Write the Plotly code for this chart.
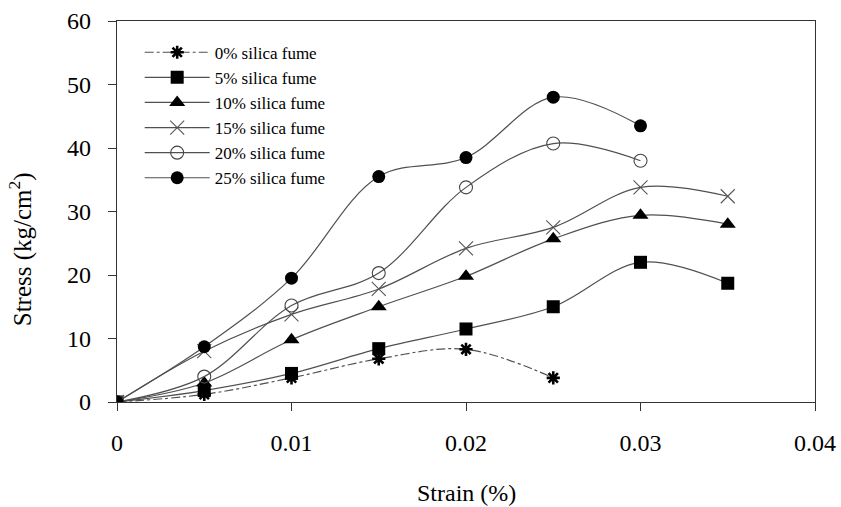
import plotly.graph_objects as go

strain = [0, 0.005, 0.01, 0.015, 0.02, 0.025, 0.03, 0.035]

sf0 = [0, 1.2, 3.8, 6.8, 8.3, 3.8]
sf5 = [0, 1.8, 4.5, 8.4, 11.5, 15.0, 22.0, 18.7]
sf10 = [0, 3.0, 9.8, 15.0, 19.8, 25.7, 29.4, 28.0]
sf15 = [0, 8.0, 13.8, 17.8, 24.2, 27.5, 33.8, 32.4]
sf20 = [0, 4.0, 15.2, 20.3, 33.8, 40.7, 38.0]
sf25 = [0, 8.7, 19.5, 35.5, 38.5, 48.0, 43.5]

names = ["0% silica fume", "5% silica fume", "10% silica fume",
         "15% silica fume", "20% silica fume", "25% silica fume"]

xticks = [0, 0.01, 0.02, 0.03, 0.04]
xticklabels = ["0", "0.01", "0.02", "0.03", "0.04"]
yticks = [0, 10, 20, 30, 40, 50, 60]

x_title = "Strain (%)"
y_title = "Stress (kg/cm<sup>2</sup>)"

series = [sf0, sf5, sf10, sf15, sf20, sf25]
styles = [
    dict(symbol="asterisk-open", size=11, dash="dashdot", mline=2.6, mcolor="black"),
    dict(symbol="square", size=13, dash="solid", mline=0, mcolor="black"),
    dict(symbol="triangle-up", size=14, dash="solid", mline=0, mcolor="black"),
    dict(symbol="x-thin-open", size=14, dash="solid", mline=1.1, mcolor="#555555"),
    dict(symbol="circle-open", size=13, dash="solid", mline=1.1, mcolor="#444444"),
    dict(symbol="circle", size=13, dash="solid", mline=0, mcolor="black"),
]

fig = go.Figure()
for name, ys, st in zip(names, series, styles):
    fig.add_trace(go.Scatter(
        x=strain[:len(ys)], y=ys, name=name, mode="lines+markers",
        line=dict(color="#505050", width=1.2, dash=st["dash"], shape="spline", smoothing=1.0),
        marker=dict(symbol=st["symbol"], size=st["size"], color=st["mcolor"],
                    line=dict(width=st["mline"], color=st["mcolor"])),
    ))

font = "Liberation Serif, Times New Roman, serif"
fig.update_layout(
    width=841, height=507,
    margin=dict(l=117, r=26, t=21, b=105),
    paper_bgcolor="white", plot_bgcolor="white",
    font=dict(family=font, size=24, color="black"),
    showlegend=True,
    legend=dict(x=0.0325, y=0.964, xanchor="left", yanchor="top",
                font=dict(family=font, size=17, color="black"),
                bgcolor="rgba(0,0,0,0)", itemwidth=65),
    xaxis=dict(range=[0, 0.04], tickvals=xticks, ticktext=xticklabels,
               showgrid=False, zeroline=False, showline=True, linecolor="#333333",
               linewidth=1.3, mirror=True, ticks="outside", ticklen=8, tickcolor="#333333",
               tickfont=dict(size=24), ticklabelstandoff=11, automargin=False),
    yaxis=dict(range=[0, 60], tickvals=yticks, showgrid=False, zeroline=False,
               showline=True, linecolor="#333333", linewidth=1.3, mirror=True,
               ticks="outside", ticklen=8, tickcolor="#333333", tickfont=dict(size=24),
               ticklabelstandoff=12, automargin=False),
    annotations=[
        dict(text=x_title, xref="paper", yref="paper", x=0.5, y=-0.238,
             xanchor="center", yanchor="middle", showarrow=False,
             font=dict(family=font, size=24)),
        dict(text=y_title, xref="paper", yref="paper", x=-0.138, y=0.40,
             xanchor="center", yanchor="middle", showarrow=False, textangle=-90,
             font=dict(family=font, size=25)),
    ],
)

fig.write_html("out.html", config={"displayModeBar": False},
               post_script="document.body.style.margin='0';")
